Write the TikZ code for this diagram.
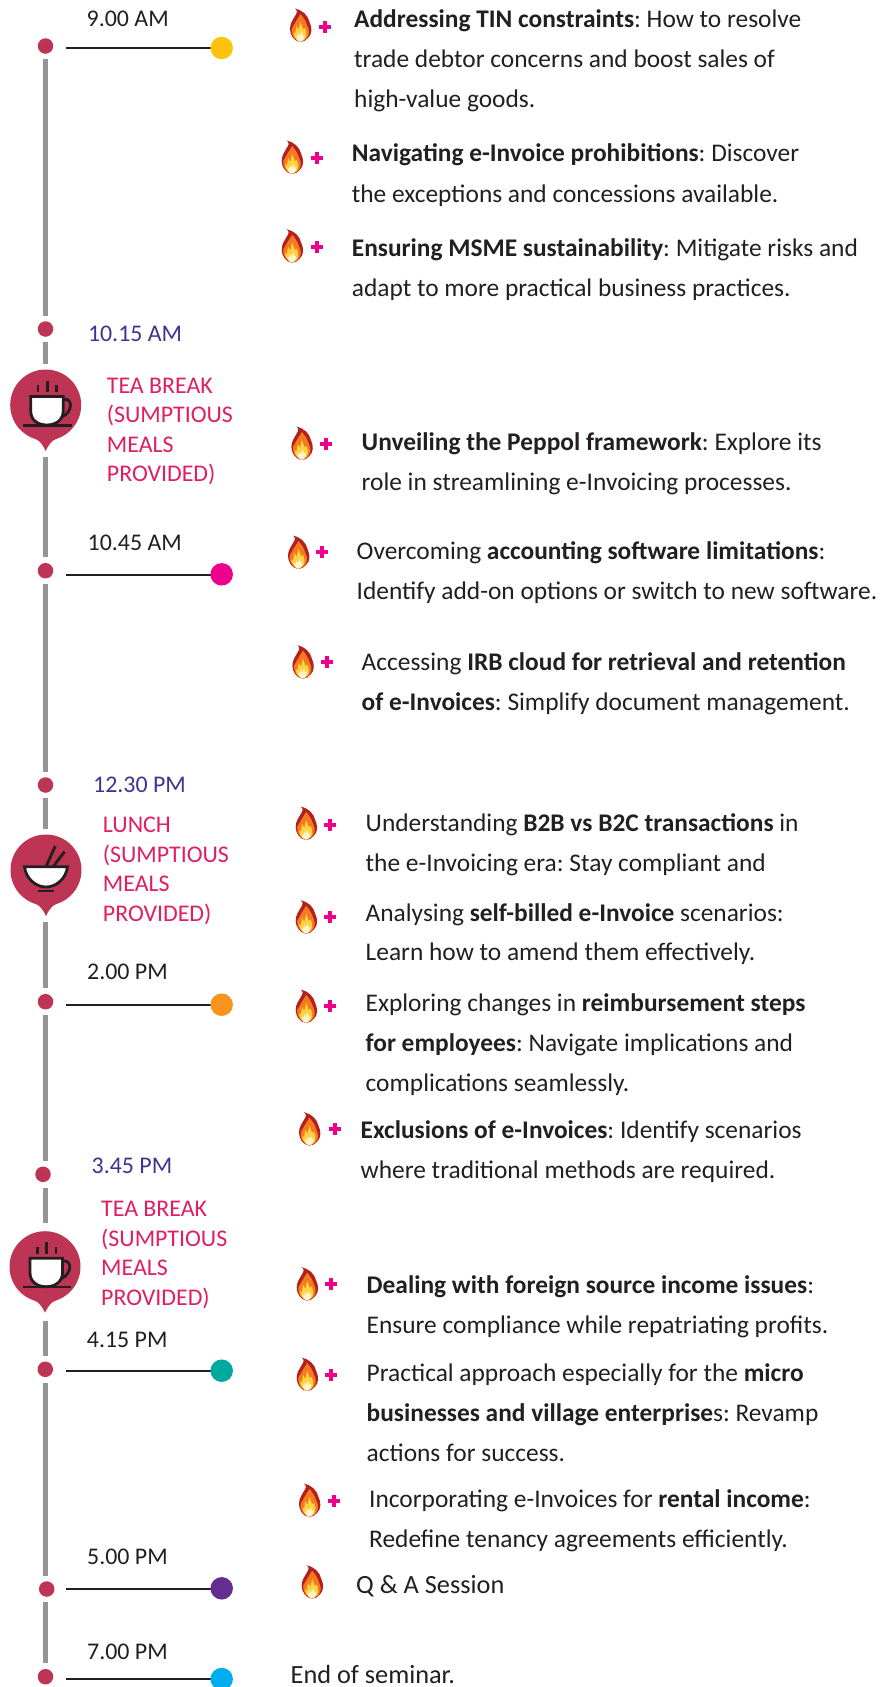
\documentclass[tikz,border=0pt]{standalone}
\usepackage{fontspec}
\setmainfont{Carlito}
\frenchspacing
\definecolor{ink}{HTML}{231F20}
\definecolor{rail}{HTML}{939598}
\definecolor{dotred}{HTML}{BE3455}
\definecolor{navy}{HTML}{3F3590}
\definecolor{rose}{HTML}{E01F5F}
\definecolor{plusc}{HTML}{EC008C}
\definecolor{flred}{HTML}{B3201E}
\definecolor{florange}{HTML}{F37A1F}
\definecolor{flyellow}{HTML}{FFD23F}
\definecolor{flwhite}{HTML}{FFF6D0}
\tikzset{
 x=1pt,y=-1pt,
 txt/.style={anchor=base west,inner sep=0pt,text=ink,yshift=-1pt,font=\fontsize{25.4}{25.4}\selectfont},
 bigtxt/.style={anchor=base west,inner sep=0pt,text=ink,font=\fontsize{26.3}{26.3}\selectfont},
 timelab/.style={anchor=base west,inner sep=0pt,text=ink,font=\fontsize{23.9}{25}\selectfont},
 navylab/.style={timelab,text=navy},
 roselab/.style={anchor=base west,inner sep=0pt,text=rose,font=\fontsize{23.9}{25}\selectfont},
 raildot/.style={circle,fill=dotred,inner sep=0pt,minimum size=15.5pt},
 enddot/.style={circle,inner sep=0pt,minimum size=22.5pt},
 railseg/.style={draw=rail,line width=5.3pt,shorten <=5.5pt,shorten >=5.5pt},
 hline/.style={draw=ink,line width=2pt},
 pinhead/.style={circle,fill=dotred,inner sep=0pt,minimum size=71pt},
 plusm/.style={plusc,line width=4pt},
 iconline/.style={ink,line width=2.8pt},
 pics/flame/.style={code={
  \fill[flred]
    (-1,17) .. controls (-7,16) and (-11,10) .. (-11,4)
    .. controls (-11,-2) and (-8,-5) .. (-6,-9)
    .. controls (-4,-12) and (-3,-14) .. (-6,-16.5)
    .. controls (1,-15) and (7,-10) .. (8.5,-3)
    .. controls (11,2) and (11.5,9) .. (7,13)
    .. controls (5,15.5) and (2,17) .. (-1,17) -- cycle;
  \fill[florange]
    (-1,16.5) .. controls (-6,15.5) and (-10,10) .. (-9.5,4)
    .. controls (-8.5,2) and (-7,0) .. (-5.5,-3)
    .. controls (-4,-6) and (-2,-8) .. (-0.5,-11)
    .. controls (2,-8) and (5,-4) .. (6,0)
    .. controls (8.5,5) and (9,9) .. (6,13)
    .. controls (4,15.5) and (1,16.5) .. (-1,16.5) -- cycle;
  \fill[flyellow]
    (-1,16.5) .. controls (-5,15.5) and (-8,11) .. (-7.5,7)
    -- (-6,8.5) -- (-4.5,1) -- (-2.5,5) -- (-0.5,-3) -- (2,4) -- (4,3)
    .. controls (6,7) and (6,11) .. (4,14)
    .. controls (2.5,15.5) and (0.5,16.5) .. (-1,16.5) -- cycle;
  \fill[flwhite]
    (-1,16.8) .. controls (-4,15.5) and (-5.5,13) .. (-5,10.5)
    -- (-3.5,12) -- (-2.5,8) -- (-1,11) -- (0.5,6.5) -- (2,11) -- (3.5,9.5)
    .. controls (4,12) and (3,15) .. (1,16)
    .. controls (0,16.6) and (-0.5,16.8) .. (-1,16.8) -- cycle;
 }},
 pics/plusmark/.style={code={
  \draw[plusm] (-6,0) -- (6,0);
  \draw[plusm] (0,-6) -- (0,6);
 }},
 pics/pintip/.style={code={
  \fill[dotred] (-14,-14) -- (14,-14) .. controls (10,-12) and (5,-11) .. (0,0)
    .. controls (-5,-11) and (-10,-12) .. (-14,-14) -- cycle;
 }},
 pics/cup/.style={code={
  \draw[iconline] (-7.7,-20) -- (-7.7,-13);
  \draw[iconline] (1.6,-24.3) -- (1.6,-13);
  \draw[iconline] (11,-20) -- (11,-13);
  \draw[iconline,fill=white] (-15,-8.5) -- (17.5,-8.5) -- (17.5,6)
    .. controls (17.5,15) and (10,20) .. (1.2,20)
    .. controls (-8,20) and (-15,15) .. (-15,6) -- cycle;
  \draw[iconline] (17.5,-5.5) .. controls (27,-8) and (28,7) .. (16,12);
  \draw[iconline] (-22.4,20.3) -- (26,20.3);
 }},
 pics/bowl/.style={code={
  \draw[iconline] (9.3,-24) -- (0.3,-4);
  \draw[iconline] (18.6,-18.3) -- (7.6,-4);
  \draw[iconline,fill=white] (-21.5,-3.3) -- (21.5,-3.3)
    .. controls (20,9) and (10,17) .. (0,17)
    .. controls (-10,17) and (-20,9) .. (-21.5,-3.3) -- cycle;
  \draw[iconline] (-8,21) -- (8,21);
 }},
}
\begin{document}
\begin{tikzpicture}
\useasboundingbox (0,0) rectangle (893,1687);
\fill[white] (0,0) rectangle (893,1687);
% rail nodes
\node[raildot] (d1) at (45.5,46) {};
\node[raildot] (d2) at (45.5,329) {};
\node[pinhead] (p1) at (45.7,405) {};
\node[raildot] (d3) at (45.5,570.7) {};
\node[raildot] (d4) at (45.5,785) {};
\node[pinhead] (p2) at (46,870) {};
\node[raildot] (d5) at (45.5,1001.7) {};
\node[raildot] (d6) at (43,1174.3) {};
\node[pinhead] (p3) at (45,1266.7) {};
\node[raildot] (d7) at (45.3,1369.3) {};
\node[raildot] (d8) at (46.7,1589) {};
\node[raildot] (d9) at (45.5,1676.7) {};
% rail segments
\coordinate (t1) at (45.7,451);
\coordinate (t2) at (46,916);
\coordinate (t3) at (45,1312.7);
\coordinate (u3) at (45,1315.5);
\coordinate (v3) at (45,1228.5);
\path[railseg] (p1 |- d1.south) -- (p1 |- d2.north);
\path[railseg] (p1 |- d2.south) -- (p1.north);
\path[railseg] (p1 |- t1) -- (p1 |- d3.north);
\path[railseg] (p1 |- d3.south) -- (p1 |- d4.north);
\path[railseg] (p1 |- d4.south) -- (p1 |- p2.north);
\path[railseg] (p1 |- t2) -- (p1 |- d5.north);
\path[railseg] (p1 |- d5.south) -- (p1 |- d6.north);
\path[railseg] (p1 |- d6.south) -- (p1 |- v3);
\path[railseg] (p1 |- u3) -- (p1 |- d7.north);
\path[railseg] (p1 |- d7.south) -- (p1 |- d8.north);
\path[railseg] (p1 |- d8.south) -- (p1 |- d9.north);
% pin tips and icons
\pic at (t1) {pintip};
\pic at (t2) {pintip};
\pic at (t3) {pintip};
\pic at (45.7,405) {cup};
\pic at (46,870) {bowl};
\pic at (45,1266.7) {cup};
% end dots and ticks
\foreach \n/\c/\y/\ly in {1/FFC20E/48/47.5,2/EC008C/574.3/575,3/F7941D/1004.7/1004.7,4/00A99D/1370.7/1370.7,5/662D91/1588.3/1589,6/00AEEF/1679/1679}{
 \definecolor{tmpc}{HTML}{\c}
 \coordinate (s\n) at (66,\ly);
 \coordinate (f\n) at (212,\ly);
 \draw[hline] (s\n) -- (f\n);
 \node[enddot,fill=tmpc] (e\n) at (221.7,\y) {};
}
% time labels
\node[timelab] (l1) at (86.5,26) {9.00 AM};
\node[navylab] (l2) at (87.8,341) {10.15 AM};
\node[timelab] (l3) at (87.5,550.7) {10.45 AM};
\node[navylab] (l4) at (93,792) {12.30 PM};
\node[timelab] (l5) at (87,979) {2.00 PM};
\node[navylab] (l6) at (91.5,1173) {3.45 PM};
\node[timelab] (l7) at (86.7,1347.5) {4.15 PM};
\node[timelab] (l8) at (87,1564) {5.00 PM};
\node[timelab] (l9) at (87,1659) {7.00 PM};
% break labels
\node[roselab] (a1) at (106.7,393) {TEA BREAK};
\node[roselab] (a2) at (106.7,422.7) {(SUMPTIOUS};
\node[roselab] (a3) at (106.7,452) {MEALS};
\node[roselab] (a4) at (106.7,481.7) {PROVIDED)};
\node[roselab] (b1) at (102.7,832.7) {LUNCH};
\node[roselab] (b2) at (102.7,862) {(SUMPTIOUS};
\node[roselab] (b3) at (102.7,891.7) {MEALS};
\node[roselab] (b4) at (102.7,921) {PROVIDED)};
\node[roselab] (c1) at (101,1216.7) {TEA BREAK};
\node[roselab] (c2) at (101,1246.3) {(SUMPTIOUS};
\node[roselab] (c3) at (101,1275.7) {MEALS};
\node[roselab] (c4) at (101,1305.3) {PROVIDED)};
% flames and pluses
\foreach \fx/\fy/\px/\py in {301/25/324.5/26.5,292.7/157/316.5/157.5,292.7/245.7/316.5/246.5,302.4/443/326/443.5,299/552/321.7/552,303.4/661.7/327/662,306.7/823/330.3/825,306.7/916.7/330.3/917,306.7/1006/330.3/1006,310/1128.7/334.6/1129,307.7/1283.7/331.4/1284,307.7/1374/331.4/1375,310/1500/333.7/1500.7}{
 \pic at (\fx,\fy) {flame};
 \pic at (\px,\py) {plusmark};
}
\pic at (312.7,1581.7) {flame};
% items
\node[txt] (i1) at (354,26.7) {\textbf{Addressing TIN constraints}: How to resolve};
\node[txt] (i2) at (354,66.7) {trade debtor concerns and boost sales of};
\node[txt] (i3) at (354,106.7) {high-value goods.};
\node[txt] (i4) at (351.7,160.7) {\textbf{Navigating e-Invoice prohibitions}: Discover};
\node[txt] (i5) at (351.7,201) {the exceptions and concessions available.};
\node[txt] (i6) at (351.7,255) {\textbf{Ensuring MSME sustainability}: Mitigate risks and};
\node[txt] (i7) at (351.7,295.7) {adapt to more practical business practices.};
\node[txt] (i8) at (361.5,449.8) {\textbf{Unveiling the Peppol framework}: Explore its};
\node[txt] (i9) at (361.5,489.7) {role in streamlining e-Invoicing processes.};
\node[txt] (i10) at (356.5,558.4) {Overcoming \textbf{accounting software limitations}:};
\node[txt] (i11) at (356.5,598.3) {Identify add-on options or switch to new software.};
\node[txt] (i12) at (361.5,669.3) {Accessing \textbf{IRB cloud for retrieval and retention}};
\node[txt] (i13) at (361.5,709) {\textbf{of e-Invoices}: Simplify document management.};
\node[txt] (i14) at (365.5,830.7) {Understanding \textbf{B2B vs B2C transactions} in};
\node[txt] (i15) at (365.5,870.5) {the e-Invoicing era: Stay compliant and};
\node[txt] (i16) at (365.5,920) {Analysing \textbf{self-billed e-Invoice} scenarios:};
\node[txt] (i17) at (365.5,959.8) {Learn how to amend them effectively.};
\node[txt] (i18) at (365.5,1010.4) {Exploring changes in \textbf{reimbursement steps}};
\node[txt] (i19) at (365.5,1050) {\textbf{for employees}: Navigate implications and};
\node[txt] (i20) at (365.5,1090) {complications seamlessly.};
\node[txt] (i21) at (360.5,1137.4) {\textbf{Exclusions of e-Invoices}: Identify scenarios};
\node[txt] (i22) at (360.5,1177) {where traditional methods are required.};
\node[txt] (i23) at (366.5,1292) {\textbf{Dealing with foreign source income issues}:};
\node[txt] (i24) at (366.5,1332) {Ensure compliance while repatriating profits.};
\node[txt] (i25) at (366.5,1380.5) {Practical approach especially for the \textbf{micro}};
\node[txt] (i26) at (366.5,1420) {\textbf{businesses and village enterprise}s: Revamp};
\node[txt] (i27) at (366.5,1460.7) {actions for success.};
\node[txt] (i28) at (369,1506.7) {Incorporating e-Invoices for \textbf{rental income}:};
\node[txt] (i29) at (369,1546.7) {Redefine tenancy agreements efficiently.};
\node[bigtxt] (i30) at (356,1593.5) {Q \& A Session};
\node[bigtxt] (i31) at (290.5,1683) {End of seminar.};
\end{tikzpicture}
\end{document}
